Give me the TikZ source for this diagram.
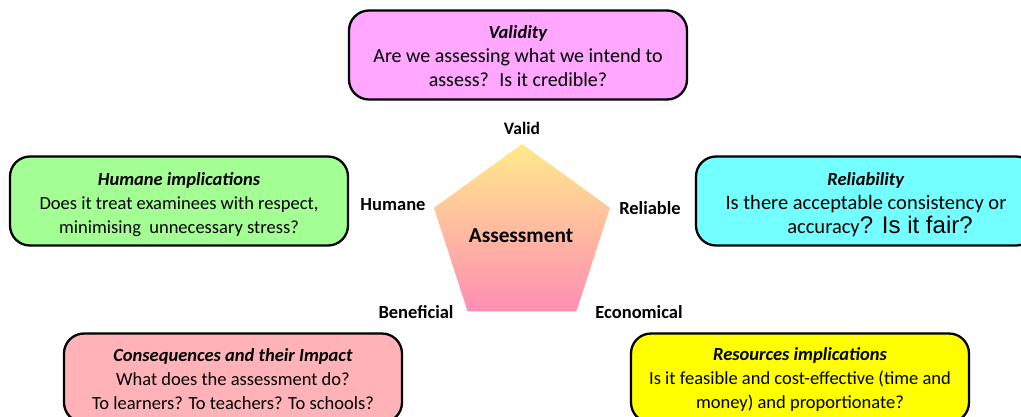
\documentclass[tikz,border=0pt]{standalone}
\usepackage{fontspec}
\setmainfont{Carlito}
\newfontfamily\arialf{Liberation Sans}
\usetikzlibrary{shapes.geometric}
\definecolor{valc}{HTML}{FFA6FF}
\definecolor{humc}{HTML}{A3FF94}
\definecolor{relc}{HTML}{73FFFF}
\definecolor{conc}{HTML}{FFB3B8}
\definecolor{resc}{HTML}{FFFF00}
\definecolor{pentop}{HTML}{FFEA8A}
\definecolor{penbot}{HTML}{FF8DB4}
\newcommand{\ttl}[2][15pt]{{\rule{0pt}{#1}\fontsize{18.5}{24}\selectfont\textbf{\textit{#2}}}}
\begin{document}
\begin{tikzpicture}[x=1pt,y=-1pt,
  box/.style={draw=black, line width=2.3pt, rounded corners=20pt, minimum width=338pt, minimum height=89pt, align=center, font=\fontsize{18.5}{24}\selectfont, inner sep=0pt},
  lab/.style={font=\fontsize{18.5}{21}\selectfont\bfseries, inner sep=0pt}]
\useasboundingbox (0,0) rectangle (1021,416);
\node[box, fill=valc, font=\fontsize{20}{24}\selectfont] (val) at (518,55) {\ttl{Validity}\\Are we assessing what we intend to\\assess?~ Is it credible?};
\node[box, fill=humc] (hum) at (179,201) {\ttl[20pt]{Humane implications}\\Does it treat examinees with respect,\\minimising~ unnecessary stress?};
\node[box, fill=relc, minimum width=340pt, font=\fontsize{20.5}{24}\selectfont] (rel) at (866,201) {\ttl[20pt]{Reliability}\\Is there acceptable consistency or\\\hspace*{28pt}accuracy{\arialf\fontsize{24}{24}\selectfont? Is it fair?}};
\node[box, fill=conc] (con) at (233,378) {\ttl[16pt]{Consequences and their Impact}\\What does the assessment do?\\To learners? To teachers? To schools?};
\node[box, fill=resc] (res) at (800,378) {\ttl[16pt]{Resources implications}\\Is it feasible and cost-effective (time and\\money) and proportionate?};
\node[regular polygon, regular polygon sides=5, minimum size=185pt, inner sep=0pt, top color=pentop, bottom color=penbot] (pent) at (522,236.5) {};
\node[font=\fontsize{21.3}{24}\selectfont\bfseries, inner sep=0pt] (ass) at (521,236) {Assessment};
\node[lab, font=\fontsize{17.5}{21}\selectfont\bfseries] (valid) at (522,128) {Valid};
\node[lab] (humane) at (393,205) {Humane};
\node[lab] (reliable) at (650,208) {Reliable};
\node[lab] (benef) at (416,312) {Beneficial};
\node[lab] (econ) at (639,312) {Economical};
\end{tikzpicture}
\end{document}
